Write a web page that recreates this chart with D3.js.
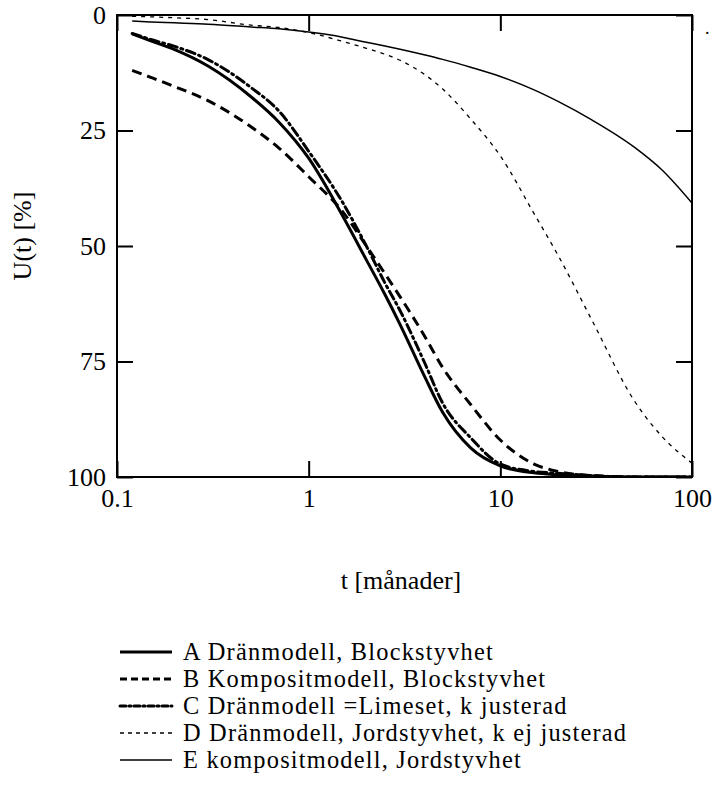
<!DOCTYPE html>
<html>
<head>
<meta charset="utf-8">
<script src="https://cdn.jsdelivr.net/npm/d3@7"></script>
<style>
  html, body { margin: 0; padding: 0; background: #fff; }
  svg { display: block; }
  svg text { font-family: "Liberation Serif", "Times New Roman", serif !important; fill: #000; }
</style>
</head>
<body>
<svg id="chart" width="714" height="800"></svg>
<script>
// Time axis (months) shared by all series
const t = [0.12, 0.15, 0.2, 0.3, 0.5, 0.7, 1, 1.5, 2, 2.5, 3, 4, 5, 7, 10, 15, 20, 30, 50, 70, 100];

// Degree of consolidation U(t) [%] for each model
const seriesA = [4.1, 5.6, 7.5, 11.1, 17.7, 23.2, 31, 43.4, 53, 60.5, 67, 78, 86, 93.7, 97.6, 99.1, 99.5, 99.8, 100, 100, 100];
const seriesB = [12, 13.5, 15.5, 18.6, 24.2, 28.8, 35, 42.5, 50, 56, 61, 69.3, 76.3, 84.3, 92, 97.2, 98.8, 99.7, 100, 100, 100];
const seriesC = [4, 5.3, 6.8, 9.7, 15.7, 20.8, 29.5, 40.5, 50, 58, 64, 75, 84, 91.5, 97.2, 98.8, 99.2, 99.7, 100, 100, 100];
const seriesD = [0.3, 0.4, 0.6, 1.0, 2.2, 2.7, 3.8, 5.7, 7.2, 8.5, 9.8, 12.8, 16, 22.5, 30.5, 43, 52, 66, 83.5, 91.3, 97];
const seriesE = [1.3, 1.5, 1.7, 2.0, 2.6, 3.0, 3.7, 4.8, 5.9, 6.7, 7.4, 8.6, 9.6, 11.3, 13.3, 16.2, 18.7, 22.7, 28.6, 33.6, 40.7];

const labels = [
  "A Dränmodell, Blockstyvhet",
  "B Kompositmodell, Blockstyvhet",
  "C Dränmodell =Limeset, k justerad",
  "D Dränmodell, Jordstyvhet, k ej justerad",
  "E kompositmodell, Jordstyvhet"
];

const xTicks = [0.1, 1, 10, 100];
const yTicks = [0, 25, 50, 75, 100];

// Stroke style per series (A..E)
const styles = [
  { width: 3,   dash: null,      legendDash: null },
  { width: 3,   dash: "10,6",    legendDash: "7,4" },
  { width: 3,   dash: "9,4,2,4", legendDash: "6,3,2,3" },
  { width: 1.3, dash: "4,5",     legendDash: "4,4" },
  { width: 1.5, dash: null,      legendDash: null }
];
const allSeries = [seriesA, seriesB, seriesC, seriesD, seriesE];

const svg = d3.select("#chart");
const m = { left: 117, right: 692, top: 15, bottom: 477 };

const x = d3.scaleLog().domain([0.1, 100]).range([m.left, m.right]);
const y = d3.scaleLinear().domain([0, 100]).range([m.top, m.bottom]);

svg.append("defs").append("clipPath").attr("id", "plotClip")
  .append("rect").attr("x", m.left).attr("y", m.top - 2)
  .attr("width", m.right - m.left).attr("height", m.bottom - m.top + 2);

// Curves
const line = d3.line()
  .x(d => x(d[0]))
  .y(d => y(d[1]))
  .curve(d3.curveMonotoneX);

const curves = svg.append("g").attr("clip-path", "url(#plotClip)");
allSeries.forEach((s, i) => {
  curves.append("path")
    .datum(t.map((tv, k) => [tv, s[k]]))
    .attr("d", line)
    .attr("fill", "none")
    .attr("stroke", "#000")
    .attr("stroke-width", styles[i].width)
    .attr("stroke-dasharray", styles[i].dash)
    .attr("stroke-linecap", i === 2 ? "round" : "butt");
});

// Frame
svg.append("rect")
  .attr("x", m.left).attr("y", m.top)
  .attr("width", m.right - m.left).attr("height", m.bottom - m.top)
  .attr("fill", "none").attr("stroke", "#000").attr("stroke-width", 2);

// Inward ticks on all four sides
const tickLen = 16;
const fs = 26;
const bottomAxis = d3.axisBottom(x).tickValues(xTicks).tickSize(-tickLen).tickPadding(12)
  .tickFormat(d => String(d));
const gx = svg.append("g").attr("transform", `translate(0,${m.bottom})`).call(bottomAxis);
const topAxis = d3.axisTop(x).tickValues(xTicks).tickSize(-tickLen).tickFormat("");
const gxt = svg.append("g").attr("transform", `translate(0,${m.top})`).call(topAxis);
const leftAxis = d3.axisLeft(y).tickValues(yTicks).tickSize(-tickLen).tickPadding(11);
const gy = svg.append("g").attr("transform", `translate(${m.left},0)`).call(leftAxis);
const rightAxis = d3.axisRight(y).tickValues(yTicks).tickSize(-tickLen).tickFormat("");
const gyr = svg.append("g").attr("transform", `translate(${m.right},0)`).call(rightAxis);

[gx, gxt, gy, gyr].forEach(g => {
  g.select(".domain").remove();
  g.selectAll(".tick line").attr("stroke", "#000").attr("stroke-width", 2);
  g.selectAll("text").attr("font-size", fs).attr("fill", "#000");
});

// Axis titles
svg.append("text")
  .attr("x", 401).attr("y", 589)
  .attr("text-anchor", "middle").attr("font-size", fs)
  .text("t [månader]");

svg.append("text")
  .attr("transform", "translate(31,236) rotate(-90)")
  .attr("text-anchor", "middle").attr("font-size", fs)
  .text("U(t) [%]");

svg.append("text").attr("x", 705).attr("y", 34).attr("font-size", 18).text(".");

// Legend
const legend = svg.append("g");
labels.forEach((lab, i) => {
  const yy = 652 + i * 27;
  legend.append("line")
    .attr("x1", 120).attr("x2", 172).attr("y1", yy).attr("y2", yy)
    .attr("stroke", "#000")
    .attr("stroke-width", styles[i].width)
    .attr("stroke-dasharray", styles[i].legendDash)
    .attr("stroke-linecap", i === 2 ? "round" : "butt");
  legend.append("text")
    .attr("x", 183).attr("y", yy + 8)
    .attr("font-size", 24.4)
    .attr("letter-spacing", 1.2)
    .text(lab);
});
</script>
</body>
</html>
